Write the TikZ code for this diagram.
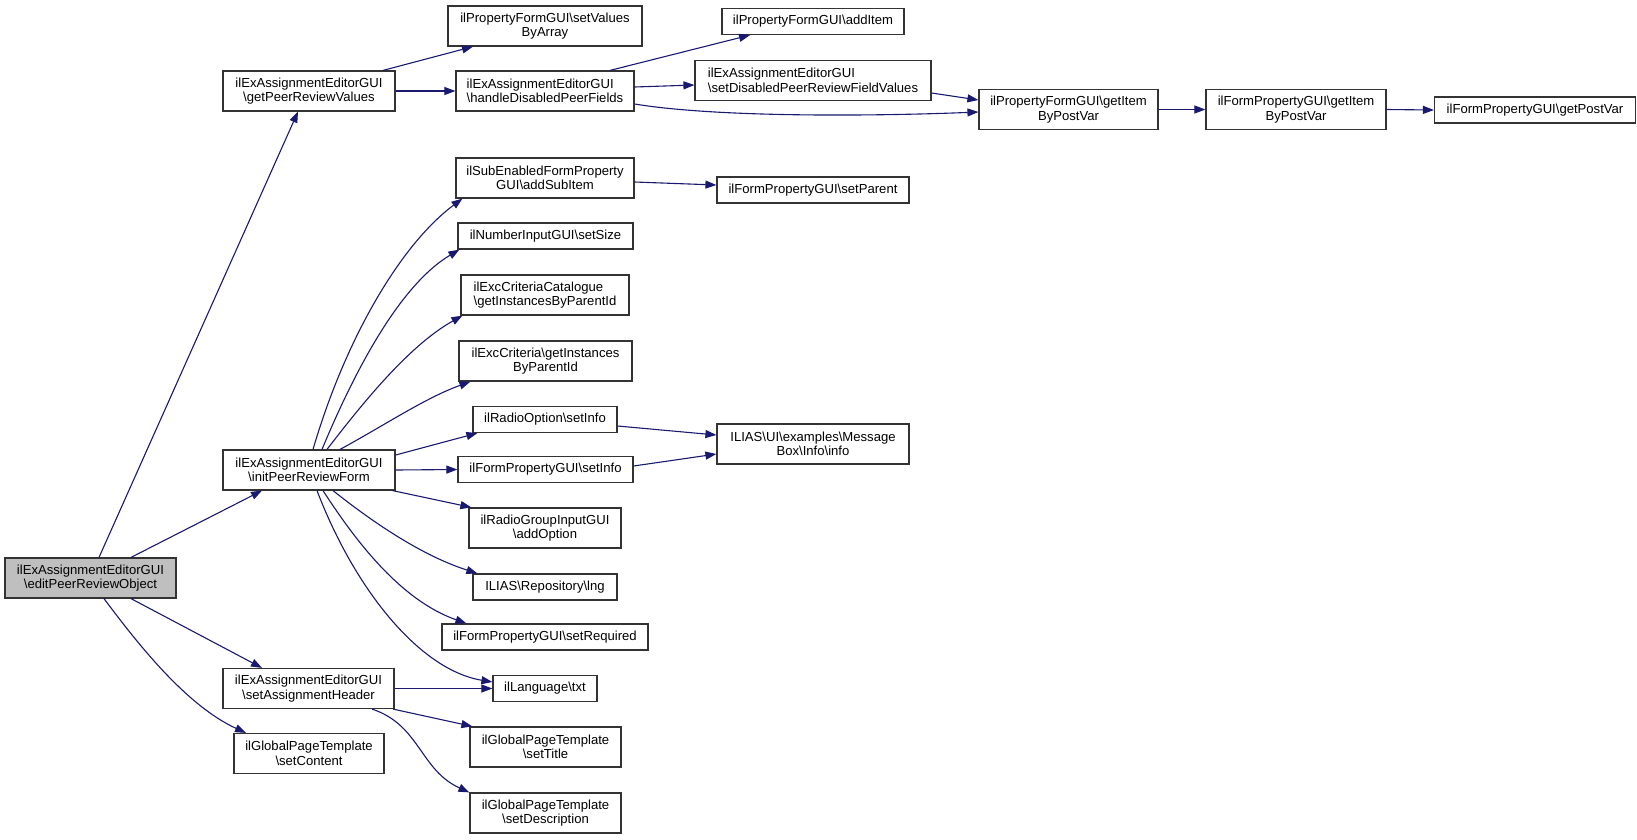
\documentclass[tikz,border=0pt]{standalone}
\usepackage{fontspec}
\setmainfont{Liberation Sans}
\usetikzlibrary{arrows.meta}
\definecolor{navy}{HTML}{191970}
\definecolor{boxgray}{HTML}{333333}
\definecolor{fillgray}{HTML}{BFBFBF}
\newcommand\nodefont{\fontsize{13.1}{14.5}\selectfont}
\newcommand\bs{\textbackslash{}}
\tikzset{
  box/.style={draw=boxgray, line width=1.2pt, fill=white, inner sep=0pt, font=\nodefont, align=center},
  boxl/.style={box, align=left},
  edge/.style={draw=navy, line width=1.1pt, -{Triangle[length=11pt,width=8pt]}},
}
\begin{document}
\begin{tikzpicture}[x=1pt,y=-1pt]
\useasboundingbox (0,0) rectangle (1637,839);
% column 0
\node[box, fill=fillgray, minimum width=171pt, minimum height=40pt] (edit) at (90.5,578) {ilExAssignmentEditorGUI\\\bs editPeerReviewObject};
% column 1
\node[box, minimum width=172pt, minimum height=40pt] (gprv) at (309,91) {ilExAssignmentEditorGUI\\\bs getPeerReviewValues};
\node[box, minimum width=172pt, minimum height=40pt] (ipr) at (309,470) {ilExAssignmentEditorGUI\\\bs initPeerReviewForm};
\node[box, minimum width=171pt, minimum height=40pt] (sah) at (308.5,688.5) {ilExAssignmentEditorGUI\\\bs setAssignmentHeader};
\node[box, minimum width=150pt, minimum height=40pt] (sc) at (309,753.5) {ilGlobalPageTemplate\\\bs setContent};
% column 2
\node[box, minimum width=194pt, minimum height=40pt] (svba) at (545,26) {ilPropertyFormGUI\bs setValues\\ByArray};
\node[boxl, minimum width=178pt, minimum height=40pt] (hdpf) at (545,91) {ilExAssignmentEditorGUI\\\bs handleDisabledPeerFields};
\node[box, minimum width=178pt, minimum height=40pt] (asi) at (545,178) {ilSubEnabledFormProperty\\GUI\bs addSubItem};
\node[box, minimum width=175pt, minimum height=26pt] (ss) at (545.5,236) {ilNumberInputGUI\bs setSize};
\node[boxl, minimum width=168pt, minimum height=40pt] (ecc) at (545,295) {ilExcCriteriaCatalogue\\\bs getInstancesByParentId};
\node[box, minimum width=173pt, minimum height=40pt] (ec) at (545.5,361) {ilExcCriteria\bs getInstances\\ByParentId};
\node[box, minimum width=144pt, minimum height=26pt] (ros) at (545,419.5) {ilRadioOption\bs setInfo};
\node[box, minimum width=175pt, minimum height=26pt] (fsi) at (545.5,469.5) {ilFormPropertyGUI\bs setInfo};
\node[box, minimum width=152pt, minimum height=40pt] (ao) at (545,528) {ilRadioGroupInputGUI\\\bs addOption};
\node[box, minimum width=144pt, minimum height=26pt] (lng) at (545,587) {ILIAS\bs Repository\bs lng};
\node[box, minimum width=206pt, minimum height=26pt] (sr) at (545,637) {ilFormPropertyGUI\bs setRequired};
\node[box, minimum width=104pt, minimum height=26pt] (txt) at (545,688.5) {ilLanguage\bs txt};
\node[box, minimum width=151pt, minimum height=40pt] (st) at (545.5,747) {ilGlobalPageTemplate\\\bs setTitle};
\node[box, minimum width=151pt, minimum height=40pt] (sd) at (545.5,813) {ilGlobalPageTemplate\\\bs setDescription};
% column 3
\node[box, minimum width=182pt, minimum height=26pt] (ai) at (813,21.5) {ilPropertyFormGUI\bs addItem};
\node[boxl, minimum width=236pt, minimum height=40pt] (sdp) at (813,80.5) {ilExAssignmentEditorGUI\\\bs setDisabledPeerReviewFieldValues};
\node[box, minimum width=192pt, minimum height=26pt] (sp) at (813,190) {ilFormPropertyGUI\bs setParent};
\node[box, minimum width=192pt, minimum height=40pt] (mb) at (813,444) {ILIAS\bs UI\bs examples\bs Message\\Box\bs Info\bs info};
% columns 4-6
\node[box, minimum width=179pt, minimum height=40pt] (pgi) at (1068.5,109.5) {ilPropertyFormGUI\bs getItem\\ByPostVar};
\node[box, minimum width=180pt, minimum height=40pt] (fgi) at (1296,109.5) {ilFormPropertyGUI\bs getItem\\ByPostVar};
\node[box, minimum width=201pt, minimum height=26pt] (gpv) at (1535,110) {ilFormPropertyGUI\bs getPostVar};

% edges from editPeerReviewObject
\draw[edge] ([xshift=8.5pt]edit.north) -- ([xshift=-11pt]gprv.south);
\draw[edge] ([xshift=40.5pt]edit.north) -- ([xshift=-47pt]ipr.south);
\draw[edge] ([xshift=40.5pt]edit.south) -- ([xshift=-46.5pt]sah.north);
\draw[edge] ([xshift=13.5pt]edit.south) .. controls (135,640) and (185,705) .. ([xshift=-63pt]sc.north);
% getPeerReviewValues
\draw[edge] ([xshift=74pt]gprv.north) -- ([xshift=-72pt]svba.south);
\draw[edge] (gprv.east) -- (hdpf.west);
% handleDisabledPeerFields
\draw[edge] ([xshift=65pt]hdpf.north) -- ([xshift=-63pt]ai.south);
\draw[edge] ([yshift=4pt]hdpf.east) -- ([yshift=-4.5pt]sdp.west);
\draw[edge] ([yshift=-13pt]hdpf.east) .. controls (720,118) and (880,116) .. ([yshift=-2.5pt]pgi.west);
\draw[edge] ([yshift=-12.5pt]sdp.east) -- ([yshift=9.5pt]pgi.west);
\draw[edge] (pgi.east) -- (fgi.west);
\draw[edge] (fgi.east) -- (gpv.west);
% initPeerReviewForm
\draw[edge] ([xshift=4pt]ipr.north) .. controls (345,340) and (400,245) .. ([xshift=7pt]asi.south west);
\draw[edge] ([xshift=13pt]ipr.north) .. controls (355,370) and (400,285) .. ([xshift=2pt]ss.south west);
\draw[edge] ([xshift=18pt]ipr.north) .. controls (365,400) and (410,345) .. ([xshift=2pt]ecc.south west);
\draw[edge] ([xshift=31pt]ipr.north) .. controls (385,425) and (425,398) .. ([xshift=12pt]ec.south west);
\draw[edge] ([yshift=15pt]ipr.east) -- ([xshift=5pt]ros.south west);
\draw[edge] (ipr.east) -- (fsi.west);
\draw[edge] ([xshift=-3pt]ipr.south east) -- ([xshift=3pt]ao.north west);
\draw[edge] ([xshift=24pt]ipr.south) .. controls (370,520) and (420,555) .. ([xshift=5pt]lng.north west);
\draw[edge] ([xshift=14pt]ipr.south) .. controls (355,540) and (400,600) .. ([xshift=25pt]sr.north west);
\draw[edge] ([xshift=8pt]ipr.south) .. controls (355,590) and (420,670) .. ([yshift=6.5pt]txt.west);
% setAssignmentHeader
\draw[edge] (sah.east) -- (txt.west);
\draw[edge] ([xshift=-1.5pt]sah.south east) -- ([xshift=3pt]st.north west);
\draw[edge] ([xshift=-22.5pt]sah.south east) .. controls (420,725) and (420,770) .. (sd.north west);
% others
\draw[edge] ([yshift=-4pt]asi.east) -- ([yshift=5pt]sp.west);
\draw[edge] ([yshift=-6.5pt]ros.east) -- ([yshift=9pt]mb.west);
\draw[edge] ([yshift=3.5pt]fsi.east) -- ([yshift=-10pt]mb.west);
\end{tikzpicture}
\end{document}
